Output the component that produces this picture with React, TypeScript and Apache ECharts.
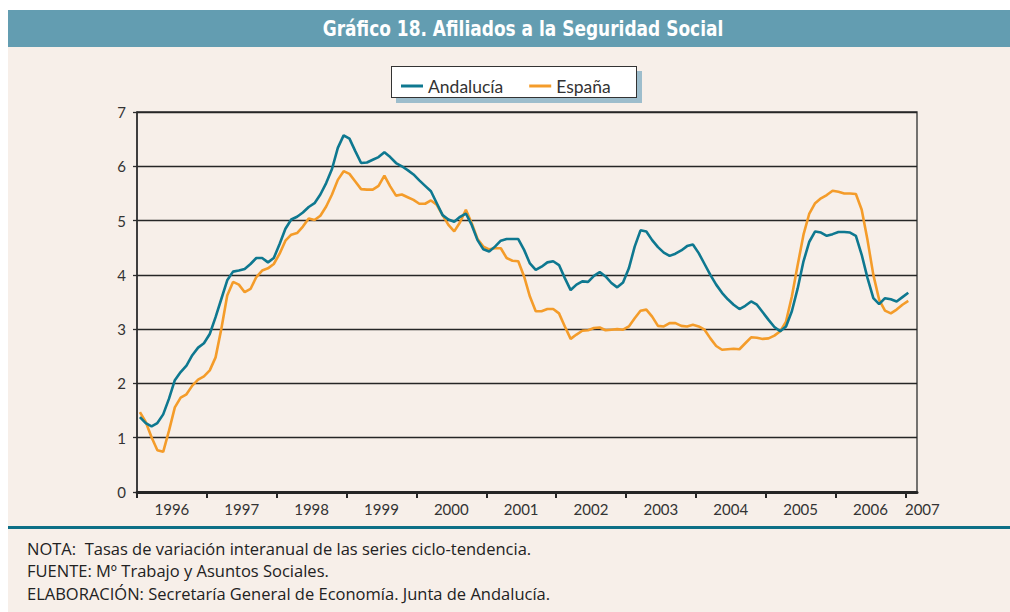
import React, { useEffect, useRef } from "react";
import * as echarts from "echarts";

// Monthly data, Jan 1996 .. Jan 2007 (index 0 = Jan 1996)
const andalucia: number[] = [
  1.38, 1.27, 1.21, 1.27, 1.43, 1.72, 2.06, 2.21, 2.33, 2.52, 2.66, 2.74,
  2.91, 3.22, 3.56, 3.90, 4.06, 4.08, 4.11, 4.20, 4.31, 4.31, 4.23, 4.31,
  4.57, 4.85, 5.02, 5.07, 5.15, 5.25, 5.32, 5.48, 5.69, 5.95, 6.34, 6.57,
  6.51, 6.28, 6.06, 6.07, 6.12, 6.17, 6.26, 6.17, 6.06, 6.00, 5.93, 5.85,
  5.74, 5.64, 5.54, 5.32, 5.10, 5.02, 4.98, 5.07, 5.13, 4.92, 4.64, 4.47,
  4.43, 4.52, 4.63, 4.66, 4.66, 4.66, 4.46, 4.21, 4.09, 4.15, 4.23, 4.25,
  4.18, 3.94, 3.72, 3.82, 3.88, 3.87, 3.98, 4.05, 3.97, 3.85, 3.77, 3.86,
  4.12, 4.52, 4.82, 4.80, 4.64, 4.51, 4.41, 4.35, 4.39, 4.45, 4.53, 4.56,
  4.40, 4.20, 4.00, 3.82, 3.67, 3.55, 3.45, 3.37, 3.43, 3.51, 3.45, 3.31,
  3.17, 3.04, 2.96, 3.05, 3.33, 3.75, 4.25, 4.61, 4.80, 4.78, 4.72, 4.75,
  4.79, 4.79, 4.78, 4.72, 4.37, 3.94, 3.57, 3.46, 3.57, 3.55, 3.51, 3.59,
  3.67,
];

const espana: number[] = [
  1.47, 1.29, 1.01, 0.77, 0.74, 1.13, 1.56, 1.74, 1.80, 1.96, 2.07, 2.13,
  2.24, 2.48, 3.01, 3.62, 3.87, 3.82, 3.68, 3.74, 3.96, 4.08, 4.12, 4.20,
  4.39, 4.63, 4.74, 4.77, 4.89, 5.04, 5.01, 5.09, 5.26, 5.48, 5.75, 5.91,
  5.86, 5.72, 5.58, 5.57, 5.57, 5.64, 5.83, 5.63, 5.46, 5.48, 5.43, 5.38,
  5.31, 5.31, 5.37, 5.29, 5.10, 4.92, 4.80, 4.97, 5.20, 4.95, 4.66, 4.52,
  4.47, 4.49, 4.49, 4.31, 4.26, 4.25, 3.97, 3.60, 3.33, 3.33, 3.37, 3.37,
  3.29, 3.05, 2.82, 2.90, 2.97, 2.98, 3.02, 3.03, 2.98, 2.99, 3.00, 2.99,
  3.05, 3.20, 3.34, 3.36, 3.23, 3.06, 3.05, 3.11, 3.11, 3.06, 3.05, 3.08,
  3.05, 2.99, 2.83, 2.69, 2.62, 2.63, 2.64, 2.63, 2.74, 2.85, 2.84, 2.82,
  2.83, 2.88, 2.96, 3.14, 3.60, 4.18, 4.74, 5.13, 5.32, 5.41, 5.47, 5.55,
  5.53, 5.50, 5.50, 5.49, 5.20, 4.64, 4.00, 3.54, 3.34, 3.29, 3.36, 3.45,
  3.52,
];

const years: number[] = [1996, 1997, 1998, 1999, 2000, 2001, 2002, 2003, 2004, 2005, 2006, 2007];
const yTicks: number[] = [0, 1, 2, 3, 4, 5, 6, 7];

const seriesNames = ["Andalucía", "España"];
const title = "Gráfico 18. Afiliados a la Seguridad Social";
const notes = [
  "NOTA:  Tasas de variación interanual de las series ciclo-tendencia.",
  "FUENTE: Mº Trabajo y Asuntos Sociales.",
  "ELABORACIÓN: Secretaría General de Economía. Junta de Andalucía.",
];

const TEAL = "#0e7890";
const ORANGE = "#f49c2a";
const FONT = "Lato, 'Open Sans', sans-serif";

export default function App() {
  const ref = useRef<HTMLDivElement>(null);

  useEffect(() => {
    if (!ref.current) return;
    const chart = echarts.init(ref.current, null, { renderer: "svg" });
    const toPts = (arr: number[]) => arr.map((v, i) => [i + 0.5, v]);
    const yearTickVals = years.map((y) => (y - 1996) * 12);
    const labelVals = years.slice(0, -1).map((y) => (y - 1996) * 12 + 6).concat([(2007 - 1996) * 12]);

    chart.setOption({
      animation: false,
      backgroundColor: "transparent",
      textStyle: { fontFamily: FONT },
      grid: {
        left: 137,
        top: 112,
        width: 780,
        height: 380,
        show: true,
        borderColor: "#2e2e2e",
        borderWidth: 1.3,
        backgroundColor: "transparent",
        containLabel: false,
      },
      legend: {
        left: 396,
        top: 72,
        itemWidth: 22,
        itemHeight: 3,
        itemGap: 26,
        icon: "rect",
        data: seriesNames,
        textStyle: { fontSize: 17.5, color: "#333", fontFamily: FONT },
      },
      xAxis: {
        type: "value",
        min: 0,
        max: 134,
        axisLine: { show: true, lineStyle: { color: "#262626", width: 3 } },
        axisTick: {
          show: true,
          customValues: yearTickVals,
          length: 6,
          lineStyle: { color: "#262626", width: 2 },
        },
        splitLine: { show: false },
        axisLabel: {
          customValues: labelVals,
          margin: 9,
          fontSize: 15,
          color: "#333",
          fontFamily: FONT,
          formatter: (v: number) => {
            const y = 1996 + Math.floor(v / 12);
            return v === 132 ? "{e|" + y + "}" : "{n|" + y + "}";
          },
          rich: {
            n: { fontSize: 15, color: "#333", fontFamily: FONT },
            e: { fontSize: 15, color: "#333", fontFamily: FONT, padding: [0, 0, 0, 34] },
          },
        },
      },
      yAxis: {
        type: "value",
        min: yTicks[0],
        max: yTicks[yTicks.length - 1],
        interval: 1,
        axisLine: { show: true, lineStyle: { color: "#2e2e2e", width: 1.5 } },
        axisTick: { show: true, length: 4, lineStyle: { color: "#2e2e2e", width: 1.3 } },
        splitLine: { show: true, lineStyle: { color: "#262626", width: 1.3 } },
        axisLabel: { margin: 11, fontSize: 15, color: "#333", fontFamily: FONT },
      },
      series: [
        {
          name: seriesNames[0],
          type: "line",
          data: toPts(andalucia),
          showSymbol: false,
          symbol: "none",
          lineStyle: { color: TEAL, width: 2.6 },
          itemStyle: { color: TEAL },
          z: 3,
        },
        {
          name: seriesNames[1],
          type: "line",
          data: toPts(espana),
          showSymbol: false,
          symbol: "none",
          lineStyle: { color: ORANGE, width: 2.6 },
          itemStyle: { color: ORANGE },
          z: 2,
        },
      ],
      graphic: [
        {
          type: "text",
          x: 523,
          y: 29,
          scaleX: 0.9,
          style: {
            text: title,
            fill: "#ffffff",
            font: "bold 21px 'Liberation Sans Narrow', 'DejaVu Sans Condensed', sans-serif",
            textAlign: "center",
            textVerticalAlign: "middle",
          },
        },
        ...notes.map((t, i) => ({
          type: "text",
          x: 27,
          y: [548, 570, 593][i],
          style: {
            text: t,
            fill: "#222",
            font: "16.5px 'Open Sans', Lato, sans-serif",
            textAlign: "left",
            textVerticalAlign: "middle",
          },
        })),
      ],
    });
    return () => chart.dispose();
  }, []);

  return (
    <div style={{ position: "fixed", left: 0, top: 0, width: 1010, height: 612, background: "#ffffff", overflow: "hidden" }}>
      <div style={{ position: "absolute", left: 8, top: 47, width: 1002, height: 565, background: "#f7efe9" }} />
      <div style={{ position: "absolute", left: 8, top: 10, width: 1002, height: 37, background: "#639db1" }} />
      <div style={{ position: "absolute", left: 8, top: 526, width: 1002, height: 3, background: "#0d6f86" }} />
      <div style={{ position: "absolute", left: 396, top: 71, width: 246, height: 32, background: "#9dbdcc" }} />
      <div style={{ position: "absolute", left: 391, top: 66, width: 244, height: 30, background: "#ffffff", border: "1px solid #333" }} />
      <div ref={ref} style={{ position: "absolute", left: 0, top: 0, width: 1010, height: 612 }} />
    </div>
  );
}
